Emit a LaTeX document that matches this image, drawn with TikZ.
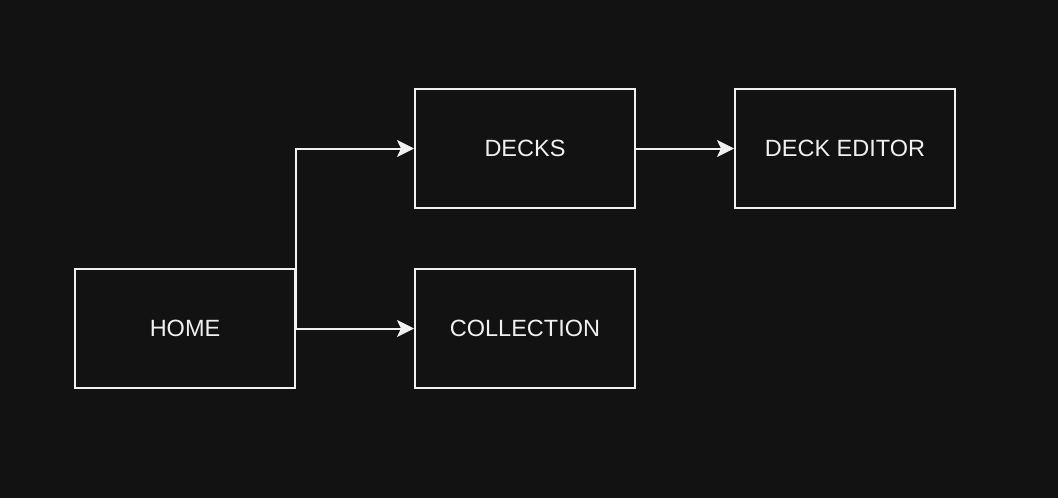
\documentclass[tikz,border=0pt]{standalone}
\usepackage{fontspec}
\setmainfont{Liberation Sans}
\usetikzlibrary{arrows.meta}
\definecolor{bg}{HTML}{121212}
\definecolor{fg}{HTML}{F0F0F0}
\begin{document}
\begin{tikzpicture}[x=1pt,y=-1pt,
  screen/.style={draw=fg,line width=2pt,minimum width=220pt,minimum height=119pt,
    inner sep=0pt,text=fg,font=\fontsize{23.5}{28}\selectfont},
  link/.style={draw=fg,line width=2pt,-{Stealth[length=17pt,width=17pt,inset=4pt]}}]
\fill[bg] (0,0) rectangle (1058,498);
\useasboundingbox (0,0) rectangle (1058,498);
\node[screen] (home) at (185,328.5) {HOME};
\node[screen] (decks) at (525,148.5) {DECKS};
\node[screen] (coll) at (525,328.5) {COLLECTION};
\node[screen] (editor) at (845,148.5) {DECK EDITOR};
\draw[link] (home.east) |- (decks.west);
\draw[link] (home.east) -- (coll.west);
\draw[link] (decks.east) -- (editor.west);
\end{tikzpicture}
\end{document}
